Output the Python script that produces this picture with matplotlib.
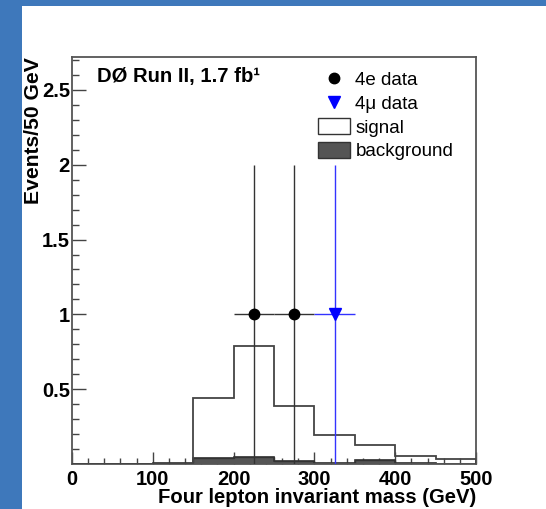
import numpy as np
import matplotlib
matplotlib.use('Agg')
import matplotlib.pyplot as plt
from matplotlib.lines import Line2D
from matplotlib.patches import Patch

plt.rcParams['font.family'] = ['Liberation Sans', 'DejaVu Sans']

# histogram bins (GeV) and contents
edges = [0, 50, 100, 150, 200, 250, 300, 350, 400, 450, 500]
signal = [0, 0, 0, 0.44, 0.79, 0.39, 0.195, 0.13, 0.056, 0.032]
background = [0, 0, 0.008, 0.04, 0.047, 0.022, 0.01, 0.027, 0.006, 0.0]

# data points
e4_x = [225, 275]
e4_y = [1, 1]
mu4_x = [325]
mu4_y = [1]
xerr = 25
yerr = 1

fig = plt.figure(figsize=(5.46, 5.09), dpi=100)
fig.patch.set_facecolor('#3e78bb')

# white slide area behind the plot
bg = fig.add_axes([22 / 546, 0, 1 - 22 / 546, 1 - 6 / 509])
bg.set_facecolor('white')
bg.set_xticks([])
bg.set_yticks([])
for sp in bg.spines.values():
    sp.set_visible(False)

ax = fig.add_axes([72 / 546, 1 - 464 / 509, 404 / 546, 407 / 509])
ax.set_facecolor('white')

ax.stairs(background, edges, fill=True, facecolor='#555555', edgecolor='#333333',
          linewidth=1.0, zorder=2)
ax.stairs(background, edges, fill=False, edgecolor='#333333', linewidth=1.2, zorder=2)
ax.stairs(signal, edges, fill=False, edgecolor='#444444', linewidth=1.3, zorder=3)

ax.errorbar(e4_x, e4_y, xerr=xerr, yerr=yerr, fmt='o', color='black', ecolor='#333333',
            elinewidth=1.0, markersize=7.5, capsize=0, zorder=5)
ax.errorbar(mu4_x, mu4_y, xerr=xerr, yerr=yerr, fmt='v', color='#0000ff', ecolor='#3333ff',
            elinewidth=1.0, markersize=8, capsize=0, zorder=5)

ax.set_xlim(0, 500)
ax.set_ylim(0, 2.72)
ax.set_xticks([0, 100, 200, 300, 400, 500])
ax.set_xticks(np.arange(0, 501, 20), minor=True)
ax.set_yticks([0.5, 1, 1.5, 2, 2.5])
ax.set_yticklabels(['0.5', '1', '1.5', '2', '2.5'])
ax.set_yticks(np.arange(0.1, 2.71, 0.1), minor=True)
ax.tick_params(axis='both', which='both', direction='in', top=False, right=False,
               colors='#444444', labelcolor='black', labelsize=14.5, width=1.0)
ax.tick_params(axis='x', which='major', length=9, pad=4)
ax.tick_params(axis='x', which='minor', length=4.5)
ax.tick_params(axis='y', which='major', length=10, pad=1.5)
ax.tick_params(axis='y', which='minor', length=5)
for lab in ax.get_xticklabels() + ax.get_yticklabels():
    lab.set_fontweight('bold')
for sp in ax.spines.values():
    sp.set_color('#555555')
    sp.set_linewidth(1.3)

ax.set_xlabel('Four lepton invariant mass (GeV)', fontsize=14.6, fontweight='bold', loc='right')
ax.xaxis.set_label_coords(1.0, -0.058)
ax.set_ylabel('Events/50 GeV', fontsize=15.2, fontweight='bold', loc='top')
ax.yaxis.set_label_coords(-0.072, 1.0)

ax.text(0.062, 0.952, 'DØ Run II, 1.7 fb¹', transform=ax.transAxes, fontsize=14.6,
        fontweight='bold', va='center', ha='left')

handles = [
    Line2D([], [], marker='o', color='black', linestyle='none', markersize=7.5),
    Line2D([], [], marker='v', color='#0000ff', linestyle='none', markersize=8),
    Patch(facecolor='white', edgecolor='#333333', linewidth=1.0),
    Patch(facecolor='#555555', edgecolor='#333333', linewidth=1.0),
]
labels = ['4e data', '4μ data', 'signal', 'background']
ax.legend(handles, labels, loc='upper left', bbox_to_anchor=(0.5996, 0.976), frameon=False,
          fontsize=13.5, handlelength=1.7, handleheight=0.9, handletextpad=0.3,
          labelspacing=0.3, borderpad=0.2, borderaxespad=0)

fig.savefig('out.png', dpi=100, facecolor=fig.get_facecolor())
